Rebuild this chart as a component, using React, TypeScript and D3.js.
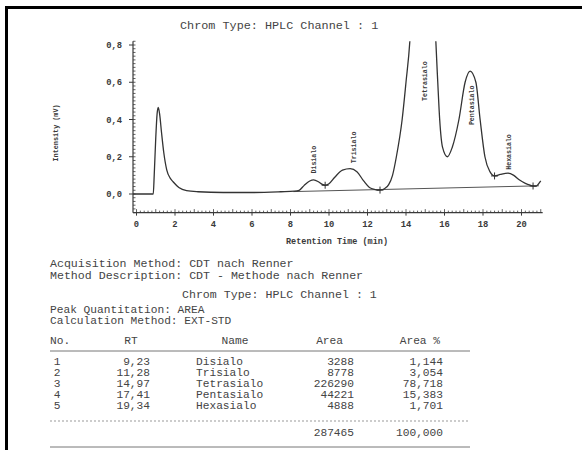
import React from "react";
import * as d3 from "d3";

const W = 582;
const H = 450;

// Detector trace, minutes vs. mV
const traceTime = [
  -0.18, 0.5, 0.87, 0.92, 1.0, 1.07, 1.13, 1.2, 1.3, 1.42, 1.57, 1.75, 1.9, 2.2, 2.6, 3.2, 4.5, 6.0, 7.5, 8.2,
  8.45, 8.7, 9.0, 9.2, 9.45, 9.65, 9.8, 10.0, 10.3, 10.7, 11.1, 11.45, 11.8, 12.1, 12.4, 12.65, 12.9, 13.1,
  13.3, 13.5, 13.8, 14.0, 14.2, 14.5, 14.97, 15.35, 15.55, 15.65, 15.75, 15.9, 16.15, 16.4, 16.75, 17.07,
  17.33, 17.63, 17.85, 18.1, 18.36, 18.6, 18.9, 19.3, 19.6, 19.9, 20.2, 20.45, 20.6, 20.75, 20.85, 21.0
];
const traceValue = [
  0.0, 0.0, 0.0, 0.1, 0.3, 0.43, 0.465, 0.43, 0.33, 0.22, 0.13, 0.085, 0.066, 0.035, 0.018, 0.012, 0.008, 0.008, 0.012, 0.015,
  0.02, 0.045, 0.07, 0.076, 0.066, 0.052, 0.047, 0.055, 0.09, 0.128, 0.136, 0.12, 0.07, 0.035, 0.024, 0.021, 0.03, 0.05,
  0.1, 0.2, 0.4, 0.6, 0.82, 1.5, 2.6, 1.5, 0.82, 0.6, 0.4, 0.25, 0.2, 0.25, 0.4, 0.6,
  0.66, 0.6, 0.4, 0.2, 0.12, 0.097, 0.105, 0.112, 0.1, 0.075, 0.057, 0.047, 0.043, 0.042, 0.05, 0.07
];

// Integration baseline end points
const baselineTime = [8.15, 20.9];
const baselineValue = [0.013, 0.044];

// Peak boundary marks
const boundaryTime = [9.8, 12.65, 18.6, 20.6];
const boundaryValue = [0.047, 0.021, 0.097, 0.043];

// Peak table
const peakNo = [1, 2, 3, 4, 5];
const peakName = ["Disialo", "Trisialo", "Tetrasialo", "Pentasialo", "Hexasialo"];
const peakRT = [9.23, 11.28, 14.97, 17.41, 19.34];
const peakArea = [3288, 8778, 226290, 44221, 4888];
const peakAreaPct = [1.144, 3.054, 78.718, 15.383, 1.701];
const totalArea = 287465;
const totalAreaPct = 100;

const yTicks = [0, 0.2, 0.4, 0.6, 0.8];
const xTicks = [0, 2, 4, 6, 8, 10, 12, 14, 16, 18, 20];

const headerLines = [
  "Acquisition Method: CDT nach Renner",
  "Method Description: CDT - Methode nach Renner",
];
const channelTitle = "Chrom Type: HPLC Channel : 1";
const quantLines = ["Peak Quantitation: AREA", "Calculation Method: EXT-STD"];

// Where each rotated peak name starts (in mV units on the y scale)
const labelBase = [0.11, 0.165, 0.5, 0.37, 0.13];

const MONO = "'Liberation Mono', 'DejaVu Sans Mono', monospace";
const INK = "#3a3a3a";

const dec = (v: number, n: number) => v.toFixed(n).replace(".", ",");

export default function App() {
  const x = d3.scaleLinear().domain([0, 20]).range([136.5, 521.5]);
  const y = d3.scaleLinear().domain([0, 0.8]).range([194, 45]);

  const axisX0 = 133;
  const axisX1 = x(21.1);
  const axisY = y(-0.1);
  const axisTop = y(0.82);

  const pts: [number, number][] = traceTime.map((t, i) => [t, traceValue[i]]);
  const line = d3
    .line<[number, number]>()
    .x((d) => x(d[0]))
    .y((d) => y(d[1]))
    .curve(d3.curveMonotoneX);

  const minorX = d3.range(0, 21.01, 0.2);
  const minorY = d3.range(-0.1, 0.821, 0.02);

  const colNo = 57;
  const colRT = 150;
  const colName = 196;
  const colArea = 354;
  const colPct = 443;
  const rowY0 = 365;
  const rowDy = 11;

  return (
    <svg
      width={W}
      height={H}
      viewBox={`0 0 ${W} ${H}`}
      style={{ position: "absolute", left: 0, top: 0, background: "#fff" }}
    >
      <defs>
        <clipPath id="plotClip">
          <rect x={axisX0} y={axisTop} width={W - axisX0} height={axisY - axisTop} />
        </clipPath>
      </defs>
      <rect width={W} height={H} fill="#fff" />

      {/* page frame */}
      <line x1={5} x2={W} y1={7.5} y2={7.5} stroke="#000" strokeWidth={3} />
      <line x1={6.5} x2={6.5} y1={6} y2={H} stroke="#000" strokeWidth={3} />

      {/* chart title */}
      <text x={180} y={29} fontFamily={MONO} fontSize={11.8} fill="#444">
        {channelTitle}
      </text>

      {/* y axis */}
      <line x1={axisX0} x2={axisX0} y1={axisTop} y2={axisY} stroke={INK} strokeWidth={1.2} />
      {minorY.map((v, i) => (
        <line key={"my" + i} x1={axisX0} x2={axisX0 + 2.5} y1={y(v)} y2={y(v)} stroke={INK} strokeWidth={0.8} />
      ))}
      {yTicks.map((v) => (
        <g key={"yt" + v}>
          <line x1={axisX0 - 4} x2={axisX0} y1={y(v)} y2={y(v)} stroke={INK} strokeWidth={1} />
          <text
            x={axisX0 - 11}
            y={y(v)}
            dy="0.35em"
            textAnchor="end"
            fontFamily={MONO}
            fontSize={8.8}
            fontWeight="bold"
            fill={INK}
          >
            {dec(v, 1)}
          </text>
        </g>
      ))}
      <text
        transform={`translate(56,${(axisTop + axisY) / 2 + 6}) rotate(-90)`}
        textAnchor="middle"
        dy="0.35em"
        fontFamily={MONO}
        fontSize={6.8}
        fontWeight="bold"
        fill={INK}
      >
        Intensity (mV)
      </text>

      {/* x axis */}
      <line x1={axisX0} x2={axisX1} y1={axisY} y2={axisY} stroke={INK} strokeWidth={1.2} />
      {minorX.map((t, i) => (
        <line
          key={"mx" + i}
          x1={x(t)}
          x2={x(t)}
          y1={axisY}
          y2={axisY - (Math.abs(t - Math.round(t)) < 1e-6 ? 3.5 : 2)}
          stroke={INK}
          strokeWidth={0.8}
        />
      ))}
      {xTicks.map((t) => (
        <g key={"xt" + t}>
          <line x1={x(t)} x2={x(t)} y1={axisY} y2={axisY + 3} stroke={INK} strokeWidth={1} />
          <text
            x={x(t)}
            y={axisY + 14}
            textAnchor="middle"
            fontFamily={MONO}
            fontSize={8.8}
            fontWeight="bold"
            fill={INK}
          >
            {t}
          </text>
        </g>
      ))}
      <text
        x={337}
        y={axisY + 31}
        textAnchor="middle"
        fontFamily={MONO}
        fontSize={8.5}
        fontWeight="bold"
        fill={INK}
      >
        Retention Time (min)
      </text>

      {/* integration baseline */}
      <line
        x1={x(baselineTime[0])}
        x2={x(baselineTime[1])}
        y1={y(baselineValue[0])}
        y2={y(baselineValue[1])}
        stroke="#555"
        strokeWidth={1}
      />

      {/* trace */}
      <g clipPath="url(#plotClip)">
        <path d={line(pts) || ""} fill="none" stroke="#333" strokeWidth={1.3} />
      </g>

      {/* boundary marks */}
      {boundaryTime.map((t, i) => (
        <g key={"b" + i} stroke="#333" strokeWidth={1}>
          <line x1={x(t) - 3.5} x2={x(t) + 3.5} y1={y(boundaryValue[i])} y2={y(boundaryValue[i])} />
          <line x1={x(t)} x2={x(t)} y1={y(boundaryValue[i]) - 3.5} y2={y(boundaryValue[i]) + 3.5} />
        </g>
      ))}

      {/* peak names */}
      {peakName.map((n, i) => (
        <text
          key={"pn" + n}
          transform={`translate(${x(peakRT[i])},${y(labelBase[i])}) rotate(-90)`}
          dy="0.35em"
          fontFamily={MONO}
          fontSize={6.6}
          fontWeight="bold"
          fill={INK}
        >
          {n}
        </text>
      ))}

      {/* method block */}
      {headerLines.map((s, i) => (
        <text key={"h" + i} x={50} y={267 + i * 12} fontFamily={MONO} fontSize={11.6} fill="#444">
          {s}
        </text>
      ))}
      <text x={182} y={298} fontFamily={MONO} fontSize={11.6} fill="#444">
        {channelTitle}
      </text>
      {quantLines.map((s, i) => (
        <text key={"q" + i} x={50} y={313 + i * 10.5} fontFamily={MONO} fontSize={11.2} fill="#444">
          {s}
        </text>
      ))}

      {/* peak table */}
      <g fontFamily={MONO} fontSize={11.2} fill="#444">
        <text x={50} y={344}>No.</text>
        <text x={131} y={344} textAnchor="middle">RT</text>
        <text x={235} y={344} textAnchor="middle">Name</text>
        <text x={343} y={344} textAnchor="end">Area</text>
        <text x={440} y={344} textAnchor="end">Area %</text>
        {peakNo.map((n, i) => (
          <g key={"r" + n}>
            <text x={colNo} y={rowY0 + i * rowDy} textAnchor="middle">{n}</text>
            <text x={colRT} y={rowY0 + i * rowDy} textAnchor="end">{dec(peakRT[i], 2)}</text>
            <text x={colName} y={rowY0 + i * rowDy}>{peakName[i]}</text>
            <text x={colArea} y={rowY0 + i * rowDy} textAnchor="end">{peakArea[i]}</text>
            <text x={colPct} y={rowY0 + i * rowDy} textAnchor="end">{dec(peakAreaPct[i], 3)}</text>
          </g>
        ))}
        <text x={colArea} y={436} textAnchor="end">{totalArea}</text>
        <text x={colPct} y={436} textAnchor="end">{dec(totalAreaPct, 3)}</text>
      </g>
      <line x1={50} x2={470} y1={351} y2={351} stroke="#777" strokeWidth={1} />
      <line x1={50} x2={470} y1={421} y2={421} stroke="#999" strokeWidth={1} strokeDasharray="2 2" />
      <line x1={50} x2={470} y1={447} y2={447} stroke="#777" strokeWidth={1} />
    </svg>
  );
}
